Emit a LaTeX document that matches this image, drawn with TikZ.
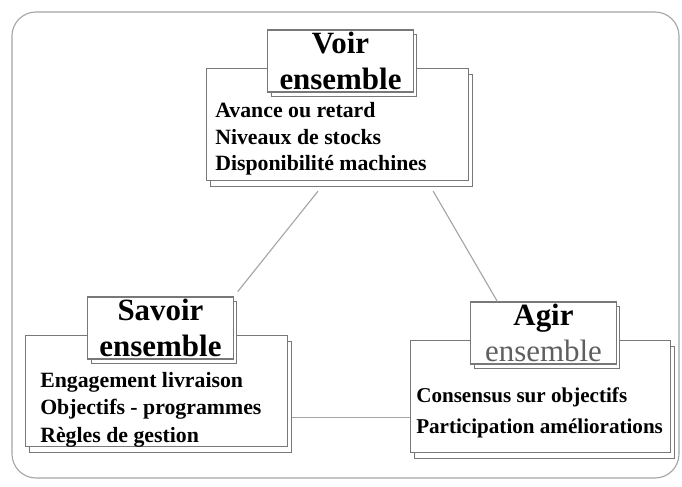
\documentclass[tikz,border=0pt]{standalone}
\usepackage{fontspec}
\setmainfont{Liberation Serif}
\usetikzlibrary{positioning, calc, shadows}
\definecolor{framegray}{RGB}{165, 165, 165}
\definecolor{boxgray}{RGB}{120, 120, 120}
\definecolor{softgray}{RGB}{95, 95, 95}

\begin{document}
\begin{tikzpicture}[x=0.025cm, y=-0.025cm,
          panel/.style={draw=boxgray, fill=white, thick,
                        anchor=north west, inner sep=0pt,
                        copy shadow={shadow xshift=0.1cm,
                        shadow yshift=-0.15cm, draw=boxgray,
                        fill=white}},
          ttl/.style={draw=boxgray, fill=white, thick,
                      inner sep=0pt, align=center,
                      minimum width=3.63cm, minimum height=1.55cm,
                      font=\fontsize{22}{26}\selectfont\bfseries,
                      copy shadow={shadow xshift=0.08cm,
                      shadow yshift=-0.12cm, draw=boxgray,
                      fill=white}},
          lst/.style={anchor=north west, align=left,
                      inner sep=0pt,
                      font=\fontsize{15.5}{19}\selectfont\bfseries},
          link/.style={draw=framegray, thick},
      ]
      \useasboundingbox (0, 0) rectangle (682, 486);
      \draw[framegray, thick, rounded corners=0.6cm]
          (12, 12) rectangle (679, 478);
      % voir
      \node[panel, minimum width=6.55cm, minimum height=2.8cm]
          (vbox) at (206, 68) {};
      \node[ttl] (vttl) at (340.5, 61) {Voir\\ensemble};
      \node[lst] (vtxt) at (215, 102)
          {Avance ou retard\\Niveaux de stocks\\Disponibilité machines};
      % savoir
      \node[panel, minimum width=6.55cm, minimum height=2.78cm]
          (sbox) at (25, 335) {};
      \node[ttl] (sttl) at (160.5, 328) {Savoir\\ensemble};
      \node[lst, font=\fontsize{15.5}{19.5}\selectfont\bfseries]
          (stxt) at (40, 372)
          {Engagement livraison\\Objectifs - programmes\\Règles de gestion};
      % agir
      \node[panel, minimum width=6.5cm, minimum height=2.8cm]
          (abox) at (410, 340) {};
      \node[ttl] (attl) at (543.5, 333)
          {Agir\\{\mdseries\color{softgray}ensemble}};
      \node[lst, font=\fontsize{15}{22}\selectfont\bfseries]
          (atxt) at (416, 387)
          {Consensus sur objectifs\\Participation améliorations};
      % liens
      \draw[link] ([xshift=2.8cm, yshift=-0.25cm]vbox.south west)
          -- ([xshift=0.1cm, yshift=0.12cm]sttl.north east);
      \draw[link] ([xshift=-0.9cm, yshift=-0.25cm]vbox.south east)
          -- ([xshift=0.675cm]attl.north west);
      \coordinate (sl) at ([xshift=0.1cm, yshift=-0.65cm]sbox.east);
      \draw[link] (sl) -- (abox.west |- sl);
      \end{tikzpicture}
\end{document}
